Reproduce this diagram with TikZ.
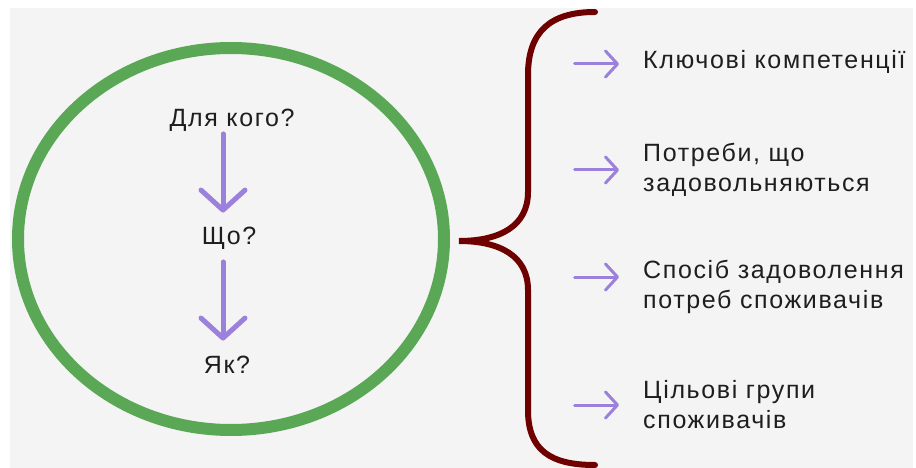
\documentclass[tikz,border=0pt]{standalone}
\usepackage{fontspec}
\setmainfont{Liberation Sans}[LetterSpace=6.5]
\usetikzlibrary{arrows.meta, positioning}

\definecolor{bggray}{RGB}{244,244,244}
\definecolor{ringgreen}{RGB}{90,168,86}
\definecolor{bracered}{RGB}{110,0,0}
\definecolor{arrowpurple}{RGB}{155,128,220}
\definecolor{textdark}{RGB}{30,30,30}

\begin{document}
\begin{tikzpicture}[x=1pt, y=-1pt,
    qlabel/.style={font=\fontsize{25}{30}\selectfont, text=textdark, inner sep=0pt},
    item/.style={qlabel, anchor=west, align=left},
    downarr/.style={arrowpurple, line width=5pt, line cap=round,
        -{Straight Barb[length=20pt, width=44pt, line cap=round, round]}},
    rarr/.style={arrowpurple, line width=3pt, line cap=round,
        -{Straight Barb[length=12pt, width=26pt, line cap=round, round]}}]
    \useasboundingbox (0,0) rectangle (916,468);
    \fill[white] (0,0) rectangle (916,468);
    \fill[bggray] (10,8) rectangle (913,468);

    \begin{scope}
        \clip (10,8) rectangle (913,468);

        % ring with the three questions
        \draw[ringgreen, line width=12pt] (231,239) ellipse [x radius=213pt, y radius=191pt];
        \node[qlabel] (qwho) at (232,120) {Для кого?};
        \node[qlabel] (qwhat) at (229,238.5) {Що?};
        \node[qlabel] (qhow) at (227,364.5) {Як?};
        \coordinate (ax) at (223,0);
        \draw[downarr, shorten <=2.5pt, shorten >=14.5pt] (qwho.south -| ax) -- (qwhat.north -| ax);
        \draw[downarr, shorten <=12pt, shorten >=15pt] (qwhat.south -| ax) -- (qhow.north -| ax);

        % brace
        \draw[bracered, line width=6pt, line cap=round]
            (595,12) .. controls (550,12) and (528,32) .. (528,75)
            -- (528,192) .. controls (528,226) and (500,241) .. (459,241)
            .. controls (500,241) and (528,256) .. (528,290)
            -- (528,410) .. controls (528,450) and (550,465) .. (595,465);

        % items
        \node[item] (k1) at (643,62) {Ключові компетенції};
        \node[item] (k2) at (643,170) {Потреби, що\\задовольняються};
        \node[item] (k3) at (643,287) {Спосіб задоволення\\потреб споживачів};
        \node[item] (k4) at (643,405) {Цільові групи\\споживачів};
        \draw[rarr] ([xshift=-68.5pt, yshift=-2pt]k1.west) -- ([xshift=-24pt, yshift=-2pt]k1.west);
        \draw[rarr] ([xshift=-68.5pt]k2.west) -- ([xshift=-24pt]k2.west);
        \draw[rarr] ([xshift=-68.5pt, yshift=10pt]k3.west) -- ([xshift=-24pt, yshift=10pt]k3.west);
        \draw[rarr] ([xshift=-68.5pt]k4.west) -- ([xshift=-24pt]k4.west);
    \end{scope}
\end{tikzpicture}
\end{document}
